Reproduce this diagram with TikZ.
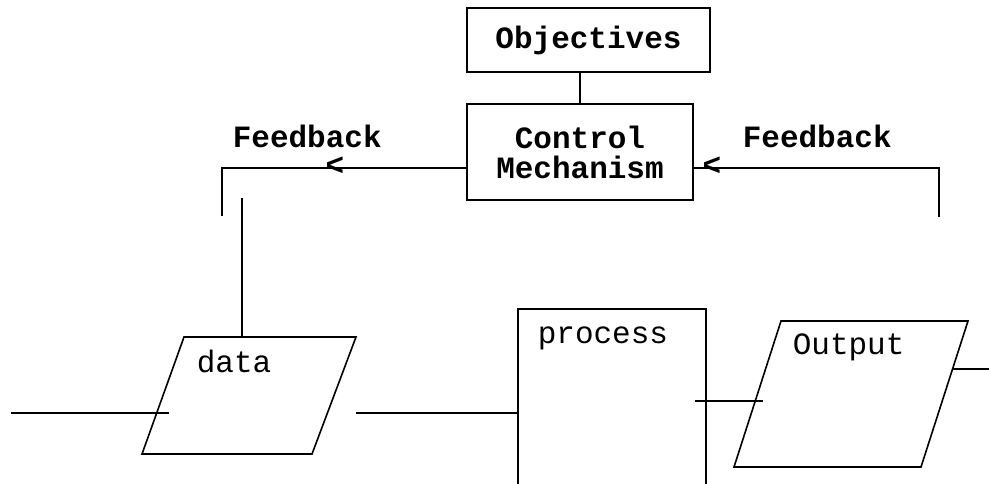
\documentclass[tikz,border=0pt]{standalone}
\usepackage{fontspec}
\setmainfont{Liberation Mono}
\begin{document}
\begin{tikzpicture}[x=1pt,y=-1pt,line width=1.6pt,
  every node/.style={font=\fontsize{31}{30}\selectfont},
  boxnode/.style={draw,line width=1.6pt,inner sep=0pt,font=\fontsize{31}{30}\selectfont\bfseries,align=center},
  lbl/.style={inner sep=0pt,anchor=base west},
  blbl/.style={inner sep=0pt,anchor=base west,font=\fontsize{31}{30}\selectfont\bfseries},
  tip/.style={inner sep=0pt,font=\fontsize{31}{30}\selectfont\bfseries}]
\useasboundingbox (0,0) rectangle (989,483);
% boxes
\node[boxnode,minimum width=243pt,minimum height=64pt] (obj) at (588.5,40) {Objectives};
\node[boxnode,minimum width=226pt,minimum height=96pt] (ctrl) at (580,152) {Control\\Mechanism};
\draw (ctrl.north) -- (ctrl.north |- obj.south);
% feedback labels
\node[blbl] (fbl) at (232,147) {Feedback};
\node[blbl] (fbr) at (742,147) {Feedback};
% feedback lines
\coordinate (lA) at (222,168);
\coordinate (lB) at (222,216);
\coordinate (rA) at (939,168);
\coordinate (rB) at (939,217);
\draw ([yshift=-16pt]ctrl.west) -- (lA) -- (lB);
\draw ([yshift=-16pt]ctrl.east) -- (rA) -- (rB);
\node[tip] (tl) at (335,166) {<};
\node[tip] (tr) at (712,166) {<};
% data parallelogram
\coordinate (d1) at (184,337);
\coordinate (d2) at (356,337);
\coordinate (d3) at (312,454);
\coordinate (d4) at (142,454);
\draw (d1) -- (d2) -- (d3) -- (d4) -- cycle;
\node[lbl] (dtxt) at (196,372) {data};
\coordinate (dv) at (242,198);
\draw (dv) -- (dv |- d1);
% input line
\coordinate (in1) at (11,413);
\coordinate (in2) at (169,413);
\draw (in1) -- (in2);
% process box
\coordinate (p1) at (518,490);
\coordinate (p2) at (518,309);
\coordinate (p3) at (706,309);
\coordinate (p4) at (706,490);
\draw (p1) -- (p2) -- (p3) -- (p4);
\node[lbl] (ptxt) at (537,343) {process};
\coordinate (dp1) at (356,413);
\draw (dp1) -- (dp1 -| p2);
% output parallelogram
\coordinate (o1) at (781,321);
\coordinate (o2) at (968,321);
\coordinate (o3) at (921,467);
\coordinate (o4) at (734,467);
\draw (o1) -- (o2) -- (o3) -- (o4) -- cycle;
\node[lbl] (otxt) at (792,354) {Output};
\coordinate (po1) at (695,401);
\coordinate (po2) at (763,401);
\draw (po1) -- (po2);
\coordinate (out1) at (953,369);
\coordinate (out2) at (989,369);
\draw (out1) -- (out2);
\end{tikzpicture}
\end{document}
